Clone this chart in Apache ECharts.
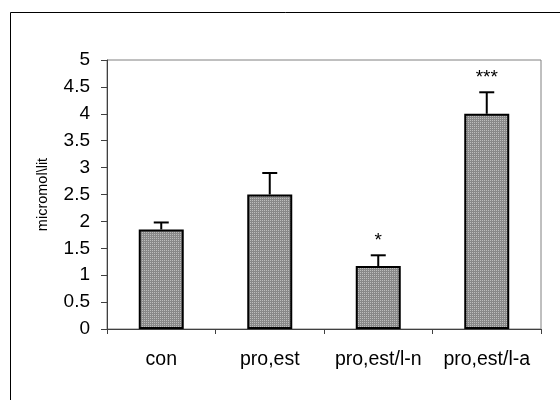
<!DOCTYPE html>
<html>
<head>
<meta charset="utf-8">
<script src="https://cdn.jsdelivr.net/npm/echarts@6/dist/echarts.min.js"></script>
<style>
  html, body { margin: 0; padding: 0; background: #fff; }
  #chart { width: 560px; height: 400px; }
</style>
</head>
<body>
<div id="chart"></div>
<script>
// data
const categories = ['con', 'pro,est', 'pro,est/l-n', 'pro,est/l-a'];
const means = [1.85, 2.5, 1.17, 4.0];
const errors = [0.13, 0.4, 0.2, 0.4];
const stars = ['', '', '*', '***'];

// dotted grey fill like the old excel bars
function makePattern() {
  const c = document.createElement('canvas');
  c.width = 4;
  c.height = 4;
  const ctx = c.getContext('2d');
  ctx.fillStyle = '#888888';
  ctx.fillRect(0, 0, 4, 4);
  ctx.fillStyle = '#bdbdbd';
  ctx.fillRect(0, 0, 1, 1);
  ctx.fillRect(2, 2, 1, 1);
  ctx.fillRect(2, 0, 1, 1);
  ctx.fillRect(0, 2, 1, 1);
  return c;
}

const myChart = echarts.init(document.getElementById('chart'));

const errData = means.map((m, i) => [i, m, errors[i]]);

const option = {
  backgroundColor: '#fff',
  animation: false,
  graphic: [
    {
      type: 'rect',
      shape: {x: 10.5, y: 12.5, width: 600, height: 500},
      style: {fill: 'none', stroke: '#000', lineWidth: 1},
      silent: true
    }
  ],
  grid: {
    left: 107,
    right: 19,
    top: 60,
    bottom: 71,
    show: true,
    borderColor: '#808080',
    borderWidth: 1
  },
  xAxis: {
    type: 'category',
    data: categories,
    axisLine: {lineStyle: {color: '#404040', width: 1}},
    axisTick: {show: true, inside: false, length: 5, interval: 0, lineStyle: {color: '#404040'}},
    axisLabel: {
      color: '#000',
      fontSize: 19.5,
      fontFamily: 'Liberation Sans, Arial, sans-serif',
      margin: 21,
      interval: 0
    },
    splitLine: {show: false}
  },
  yAxis: {
    type: 'value',
    min: 0,
    max: 5,
    interval: 0.5,
    name: 'micromol\\lit',
    nameLocation: 'middle',
    nameGap: 57,
    nameTextStyle: {
      color: '#000',
      fontSize: 14.5,
      fontFamily: 'Liberation Sans, Arial, sans-serif'
    },
    axisLine: {show: true, lineStyle: {color: '#404040', width: 1}},
    axisTick: {show: true, inside: false, length: 6, lineStyle: {color: '#404040'}},
    axisLabel: {
      color: '#000',
      fontSize: 19,
      fontFamily: 'Liberation Sans, Arial, sans-serif',
      margin: 17
    },
    splitLine: {show: false}
  },
  series: [
    {
      type: 'bar',
      data: means,
      barWidth: 45,
      itemStyle: {
        color: {image: makePattern(), repeat: 'repeat'},
        borderColor: '#000',
        borderWidth: 2
      },
      z: 2
    },
    {
      // error bars + significance stars
      type: 'custom',
      data: errData,
      z: 3,
      renderItem: function (params, api) {
        const i = api.value(0);
        const base = api.coord([i, api.value(1)]);
        const top = api.coord([i, api.value(1) + api.value(2)]);
        const star = stars[params.dataIndex];
        const children = [
          {
            type: 'line',
            shape: {x1: base[0], y1: base[1], x2: top[0], y2: top[1]},
            style: {stroke: '#000', lineWidth: 2}
          },
          {
            type: 'line',
            shape: {x1: top[0] - 7.5, y1: top[1], x2: top[0] + 7.5, y2: top[1]},
            style: {stroke: '#000', lineWidth: 2}
          }
        ];
        if (star) {
          children.push({
            type: 'text',
            style: {
              text: star,
              x: top[0],
              y: top[1] - 15,
              align: 'center',
              verticalAlign: 'middle',
              fill: '#000',
              fontSize: 19,
              fontFamily: 'Liberation Sans, Arial, sans-serif'
            }
          });
        }
        return {type: 'group', children: children};
      }
    }
  ]
};

myChart.setOption(option, true);
</script>
</body>
</html>
